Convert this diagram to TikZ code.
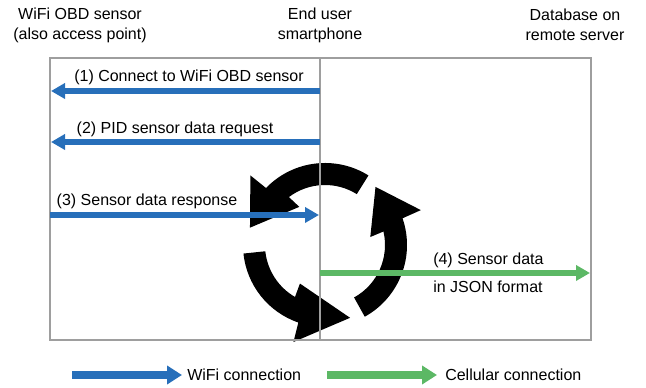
\documentclass[tikz,border=0pt]{standalone}
\usepackage{fontspec}
\setmainfont{Liberation Sans}
\usepackage{xcolor}
\definecolor{LinkBlue}{RGB}{39,111,186}
\definecolor{LinkGreen}{RGB}{92,184,101}
\definecolor{LaneGray}{RGB}{158,158,158}
\usetikzlibrary{arrows.meta}

\begin{document}
\begin{tikzpicture}[x=0.75pt, y=0.75pt, font=\fontsize{12}{15}\selectfont]
\tikzstyle{lane}=[draw=LaneGray, line width=1.5pt]
\tikzstyle{wifi}=[draw=LinkBlue, line width=4.5pt, -{Triangle[length=10.5pt, width=11.25pt]}]
\tikzstyle{cell}=[draw=LinkGreen, line width=4.5pt, -{Triangle[length=10.5pt, width=11.25pt]}]
\tikzstyle{key}=[line width=5.4pt, -{Triangle[length=11.25pt, width=13.5pt]}]
\tikzstyle{msg}=[inner sep=0pt, anchor=base]
\tikzstyle{head}=[inner sep=0pt, align=center]

\useasboundingbox (0,0) rectangle (646,388);

% column headings
\node[head] (obdH) at (80,363) {WiFi OBD sensor\\(also access point)};
\node[head] (phoneH) at (320,363) {End user\\smartphone};
\node[head] (dbH) at (575,363) {Database on\\remote server};

% refresh symbol behind the lanes
\begin{scope}[shift={(325,143)}]
\foreach \ta/\ia/\oa/\pa in {58/124/137/167, 186/237/252/289, 299/370/380/409}
  \fill[black] (\ta:82) arc[start angle=\ta, end angle=\oa-1, radius=82] -- (\oa:102) -- (\pa:77)
    -- (\ia:46) -- ({\ia+3}:60) arc[start angle=\ia+3, end angle=\ta, radius=60] -- cycle;
\end{scope}

% lanes
\draw[lane] (50,48) rectangle (591,330);
\draw[lane] (320,330) -- (320,48);

% message ends
\coordinate (phone1) at (320,297);
\coordinate (obd1) at (51,297);
\coordinate (phone2) at (320,246);
\coordinate (obd2) at (51,246);
\coordinate (obd3) at (50,173);
\coordinate (phone3) at (319,173);
\coordinate (phone4) at (320,115);
\coordinate (db4) at (590,115);

\draw[wifi] (phone1) -- (obd1);
\draw[wifi] (phone2) -- (obd2);
\draw[wifi] (obd3) -- (phone3);
\draw[cell] (phone4) -- (db4);

\node[msg] (msg1) at (189,306) {(1) Connect to WiFi OBD sensor};
\node[msg] (msg2) at (175,254) {(2) PID sensor data request};
\node[msg] (msg3) at (147,182) {(3) Sensor data response};
\node[msg, anchor=base west] (msg4) at (433,123) {(4) Sensor data};
\node[msg, anchor=base west] (msg4b) at (433,95) {in JSON format};

% legend
\coordinate (keyA1) at (72,13);
\coordinate (keyB1) at (182,13);
\coordinate (keyA2) at (327,13);
\coordinate (keyB2) at (437,13);
\draw[key, draw=LinkBlue] (keyA1) -- (keyB1);
\draw[key, draw=LinkGreen] (keyA2) -- (keyB2);
\node[inner sep=0pt, anchor=west] (keyL1) at (187,13) {WiFi connection};
\node[inner sep=0pt, anchor=west] (keyL2) at (445,13) {Cellular connection};
\end{tikzpicture}
\end{document}
